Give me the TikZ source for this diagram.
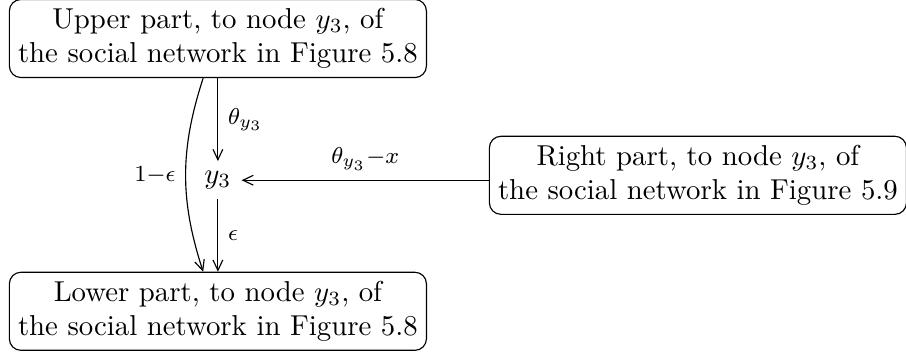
\documentclass[tikz,border=0pt]{standalone}
\usetikzlibrary{positioning, arrows.meta}
\tikzset{partbox/.style={draw, rounded corners=4pt, align=center, inner sep=3pt},
         lab/.style={font=\footnotesize}}
\begin{document}
\begin{tikzpicture}[line cap=round, line join=round, >={Straight Barb[length=3.6pt, width=3.4pt]}]
\useasboundingbox (-2.66,-2.12) rectangle (8.40,2.20);
\node (y3) at (0,0) {$y_3$};
\node[partbox] (upper) at (0,1.73) {Upper part, to node $y_3$, of\\the social network in Figure 5.8};
\node[partbox] (lower) at (0,-1.60) {Lower part, to node $y_3$, of\\the social network in Figure 5.8};
\node[partbox] (right) at (5.86,0.06) {Right part, to node $y_3$, of\\the social network in Figure 5.9};
\draw[->] (upper) -- node[lab, right] {$\theta_{y_3}$} (y3);
\draw[->] (y3) -- node[lab, right] {$\epsilon$} (lower);
\draw[->] (right.west |- y3) -- node[lab, above] {$\theta_{y_3}{-}x$} (y3);
\draw[->] ([xshift=-0.18cm]upper.south) to[bend right=18] node[lab, left] {$1{-}\epsilon$} ([xshift=-0.18cm]lower.north);
\end{tikzpicture}
\end{document}
